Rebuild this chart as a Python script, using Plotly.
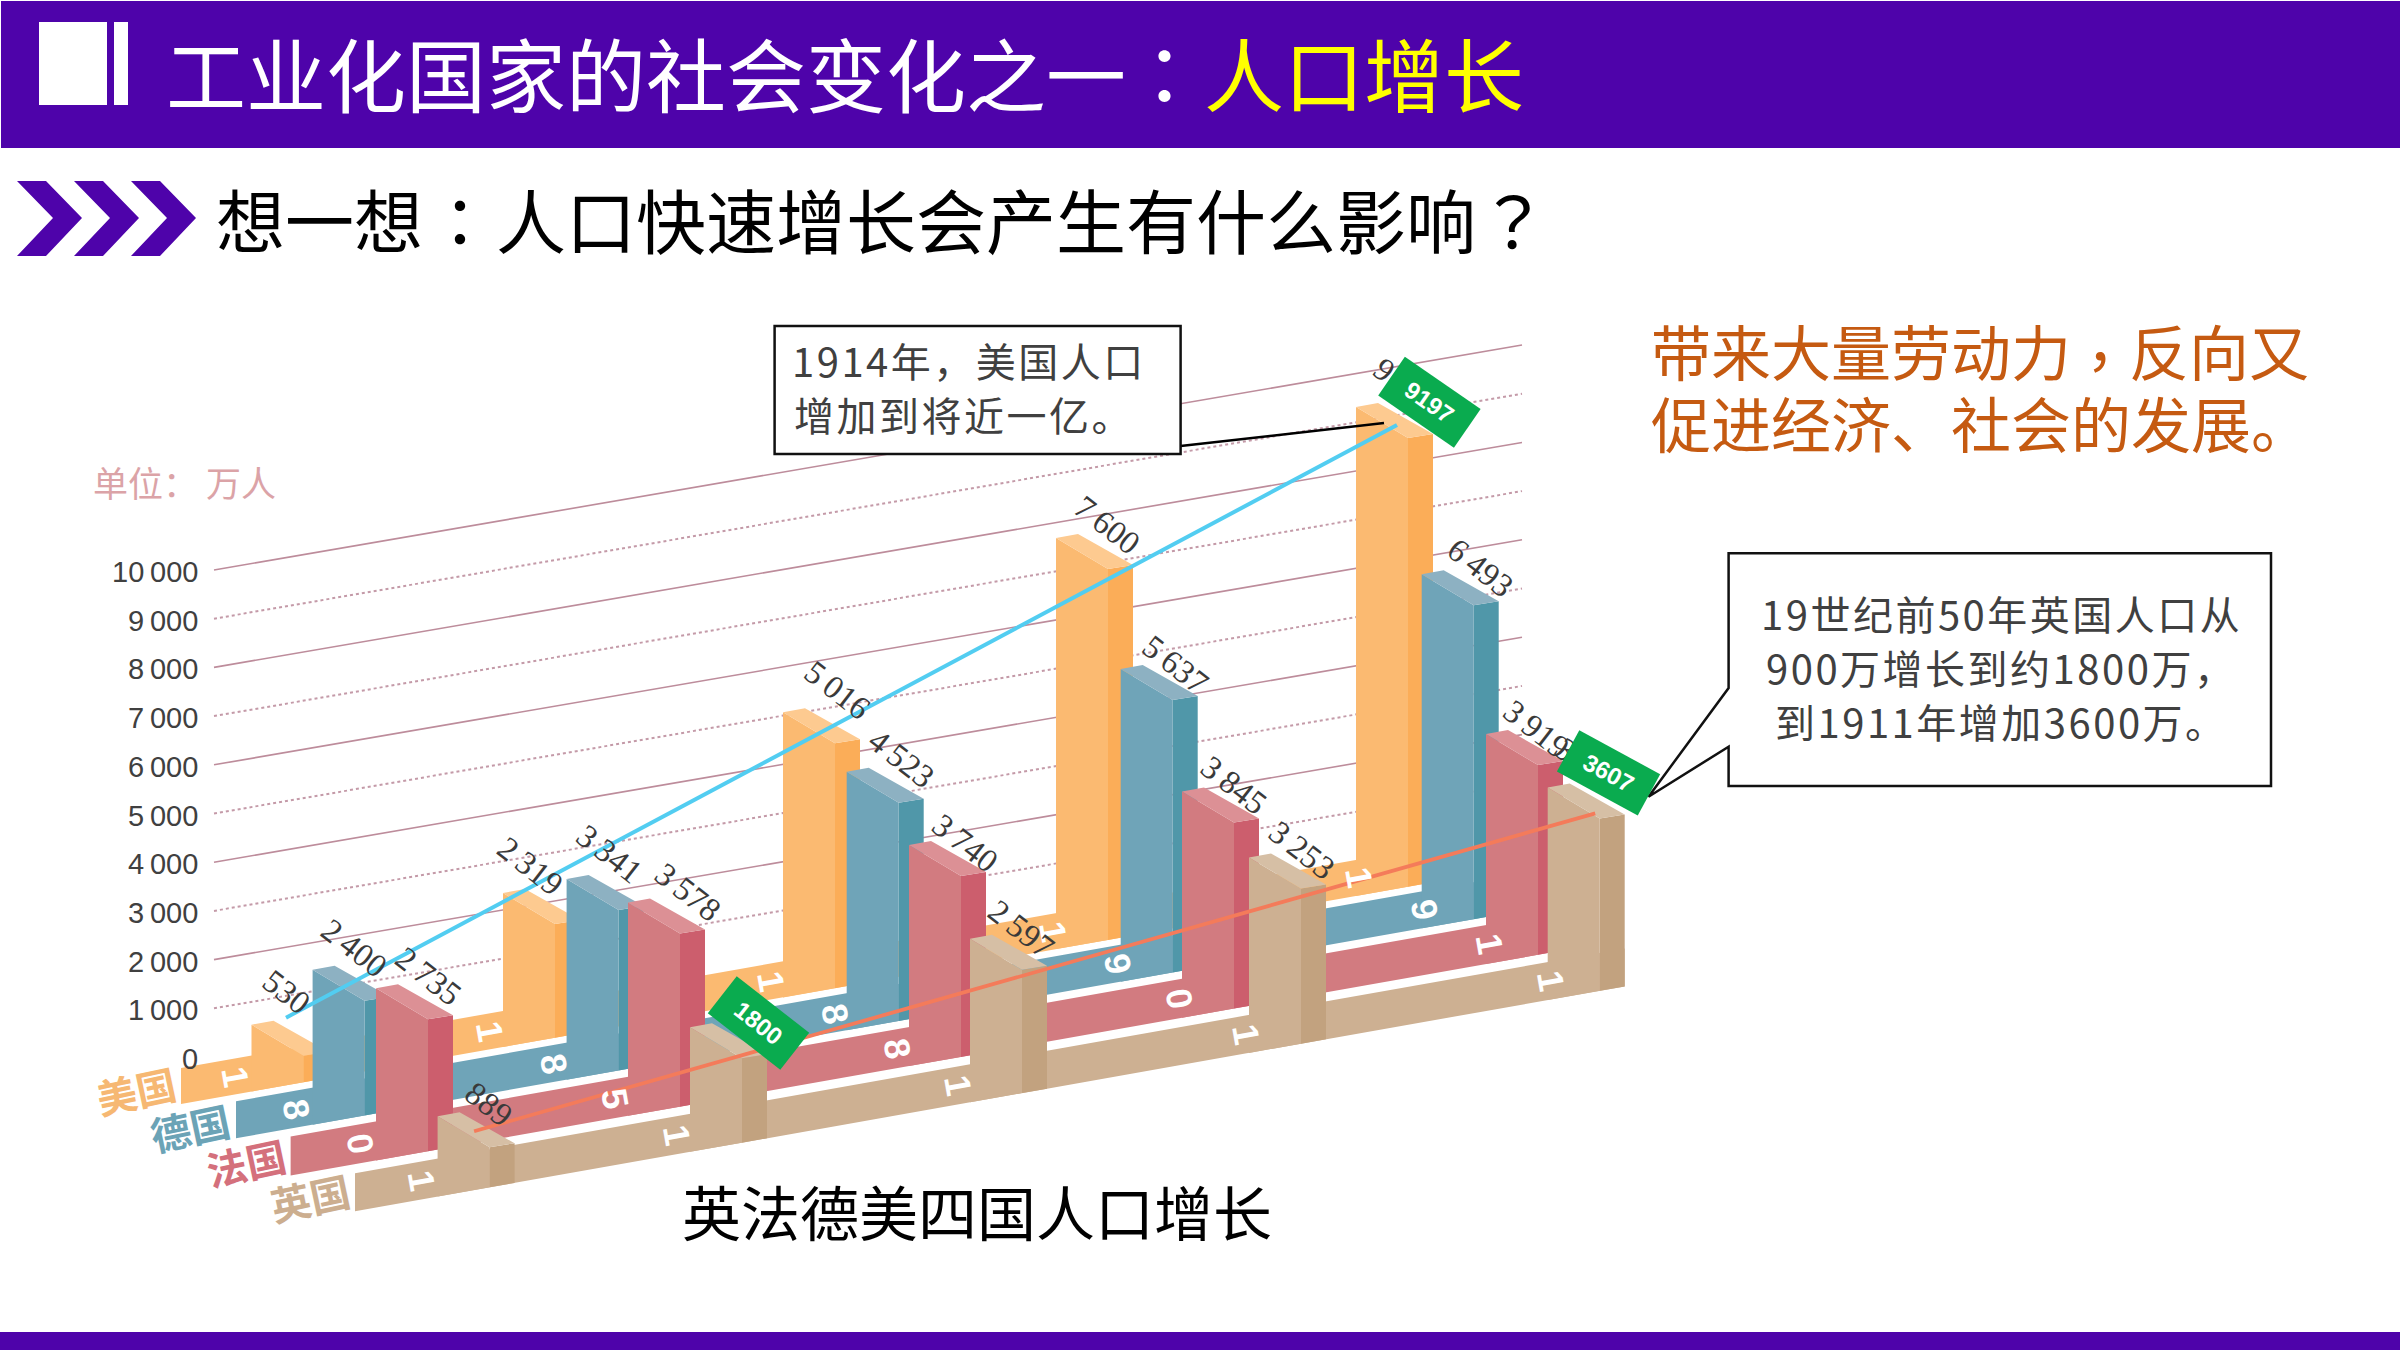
import plotly.graph_objects as go

# ---------- data ----------
COUNTRIES = ["美国", "德国", "法国", "英国"]
YEARS = [1801, 1851, 1881, 1901, 1911]
USA = [530, 2319, 5016, 7600, 9197]
GERMANY = [2400, 3341, 4523, 5637, 6493]
FRANCE = [2735, 3578, 3740, 3845, 3919]
BRITAIN = [889, 1800, 2597, 3253, 3607]
TICKS = [0, 1000, 2000, 3000, 4000, 5000, 6000, 7000, 8000, 9000, 10000]
TAGGED = {(0, 4): "9197", (3, 1): "1800", (3, 4): "3607"}

SERIES = [USA, GERMANY, FRANCE, BRITAIN]

# ---------- oblique projection (layout only) ----------
PX_PER_UNIT = 0.0487
SLOPE = 0.177
COL_X = [
    [251.5, 503, 783, 1056, 1356],
    [312.6, 566.6, 846.7, 1120.7, 1421.7],
    [376, 628, 909, 1182, 1486],
    [437.6, 690, 970, 1249, 1547.7],
]
RIB_TOP = [1100, 1143, 1188, 1236]
RIB_BOT = [1136, 1180, 1227, 1274]
RIB_LEFT = [181, 236, 290.6, 355]
TOP_SHIFT = [-5, -1, 0, 1]
FACE_W = 52
SIDE_W = 25
DIGIT_DX = [-16, -13, -12, -3, 3]
LABEL_OFF = [
    [(35, -33), (27, -27), (54, -22), (51, -13), (50, -20)],
    [(41.5, -22), (43, -25), (55, -13), (55, -4), (59, -6)],
    [(52, -12), (60, -11), (56, -2), (52, -7), (50, -5)],
    [(51, -12), (58, -8), (51, -10), (53, -8), (40, -20)],
]
COLORS = [
    dict(front="#fbba71", side="#fbad58", top="#fdca90", text="#f6b873"),
    dict(front="#6fa4b8", side="#5097a9", top="#8db1c2", text="#6ba3b6"),
    dict(front="#d27b80", side="#cc5e6d", top="#dc9095", text="#d4707c"),
    dict(front="#cdb092", side="#c2a27f", top="#d6bfa5", text="#ccae8f"),
]
CJK = "Noto Sans CJK SC"
CJK_TC = "Noto Sans CJK TC"
LATIN = "Liberation Sans"
NARROW = "Liberation Sans Narrow"
PURPLE = "#4e03aa"
HAIR = "\u200a"


def rib_top(s, x):
    return RIB_TOP[s] - SLOPE * x


def rib_bot(s, x):
    return RIB_BOT[s] - SLOPE * x


def bar_top(s, k):
    x = COL_X[s][k]
    return rib_top(s, x) + TOP_SHIFT[s] - PX_PER_UNIT * SERIES[s][k]


def grid_y(v, x):
    return 1057 - PX_PER_UNIT * v - 0.172 * (x - 214)


def poly_trace(xs, ys, color):
    return go.Scatter(x=xs, y=ys, mode="lines", fill="toself", fillcolor=color,
                      line=dict(width=0, color=color), hoverinfo="skip", showlegend=False)


fig = go.Figure()

# gridlines
for v in TICKS[1:]:
    solid = v % 2000 == 0
    fig.add_trace(go.Scatter(
        x=[214, 1522], y=[grid_y(v, 214), grid_y(v, 1522)], mode="lines",
        line=dict(color="#bd8c9b" if solid else "#c49aa8", width=1.6 if solid else 2,
                  dash="solid" if solid else "dot"),
        hoverinfo="skip", showlegend=False))

# ribbons and bars, back to front
for s, vals in enumerate(SERIES):
    c = COLORS[s]
    rx0, rx1 = RIB_LEFT[s], COL_X[s][-1] + FACE_W + SIDE_W
    fig.add_trace(poly_trace([rx0, rx1, rx1, rx0, rx0],
                             [rib_top(s, rx0), rib_top(s, rx1), rib_bot(s, rx1), rib_bot(s, rx0), rib_top(s, rx0)],
                             c["front"]))
    fx, fy, sx, sy, tx, ty = [], [], [], [], [], []
    for k, v in enumerate(vals):
        x = COL_X[s][k]
        t = bar_top(s, k)
        a, b, d = x + FACE_W, x + FACE_W + SIDE_W, x + 22
        fx += [x, a, a, x, x, None]
        fy += [t, t + 31, rib_bot(s, a), rib_bot(s, x), t, None]
        sx += [a, b, b, a, a, None]
        sy += [t + 31, t + 27, rib_bot(s, b), rib_bot(s, a), t + 31, None]
        tx += [x, d, b, a, x, None]
        ty += [t, t - 4, t + 27, t + 31, t, None]
    fig.add_trace(poly_trace(sx, sy, c["side"]))
    fig.add_trace(poly_trace(fx, fy, c["front"]))
    fig.add_trace(poly_trace(tx, ty, c["top"]))

# callout leader for the 1914 note
fig.add_trace(go.Scatter(x=[1180.6, COL_X[0][4] + 28], y=[446, bar_top(0, 4) + 16], mode="lines",
                         line=dict(color="#000000", width=2.5), hoverinfo="skip", showlegend=False))
# trend lines first -> last value
fig.add_trace(go.Scatter(
    x=[COL_X[0][0] + 34.5, COL_X[0][4] + 41], y=[bar_top(0, 0) - 7, bar_top(0, 4) + 18], mode="lines",
    line=dict(color="#52cdf1", width=4), hoverinfo="skip", showlegend=False))
fig.add_trace(go.Scatter(
    x=[COL_X[3][0] + 36.5, COL_X[3][4] + 47.5], y=[bar_top(3, 0) + 15, bar_top(3, 4) + 26], mode="lines",
    line=dict(color="#f47b5a", width=3.8), hoverinfo="skip", showlegend=False))

# ---------- shapes ----------
shapes = [
    dict(type="rect", x0=1, x1=2400, y0=1, y1=148, fillcolor=PURPLE, line_width=0, layer="below"),
    dict(type="rect", x0=0, x1=2400, y0=1332, y1=1350, fillcolor=PURPLE, line_width=0, layer="below"),
    dict(type="rect", x0=39, x1=107, y0=22, y1=105, fillcolor="#ffffff", line_width=0, layer="below"),
    dict(type="rect", x0=114, x1=128, y0=22, y1=105, fillcolor="#ffffff", line_width=0, layer="below"),
    dict(type="rect", x0=774.6, x1=1180.6, y0=326, y1=454, fillcolor="#ffffff",
         line=dict(color="#111111", width=2.5), layer="above"),
    dict(type="path",
         path="M1728.6,553.3 L2271,553.3 L2271,786 L1728.6,786 L1728.6,746.7 L1648.5,796.7 L1728.6,688 Z",
         fillcolor="#ffffff", line=dict(color="#111111", width=2.5), layer="above"),
]
for i in range(3):
    o = i * 57
    shapes.append(dict(
        type="path",
        path=f"M{17+o},181 L{46+o},181 L{82+o},218 L{46+o},256 L{17+o},256 L{53+o},218 Z",
        fillcolor=PURPLE, line_width=0, layer="below"))

# ---------- text ----------
ann = []


def text(t, x, y, size, color="#000000", family=CJK, anchor="left", angle=0, **kw):
    ann.append(dict(text=t, x=x, y=y, xref="x", yref="y", showarrow=False, xanchor=anchor, yanchor="middle",
                    textangle=angle, borderpad=0,
                    font=dict(family=family, size=size, color=color), **kw))


def spaced(t):
    return HAIR.join(t)


# headers
text("工业化国家的社会变化之一", 165, 71, 80, "#ffffff")
text("：", 1124, 71, 79, "#ffffff", CJK_TC)
text("人口增长", 1203, 71, 80, "#ffff00")
text("想一想", 215, 218, 69)
text("：", 425, 218, 68, "#000000", CJK_TC)
text("人口快速增长会产生有什么影响", 495, 218, 70)
text("？", 1477, 218, 70, "#000000", CJK_TC)

# right-hand message
text("带来大量劳动力", 1650, 349, 60, "#c55a11")
text("，", 2069, 357, 60, "#c55a11", CJK_TC)
text("反向又", 2128, 349, 60, "#c55a11")
text("促进经济、社会的发展。", 1650, 421, 60, "#c55a11")

# callout texts
text(spaced("1914年，美国人口"), 791, 360, 40, "#404040")
text(spaced("增加到将近一亿。"), 793, 414, 40, "#404040")
text(spaced("19世纪前50年英国人口从"), 2000, 613, 40, "#404040", anchor="center")
text(spaced("900万增长到约1800万，"), 2000, 667, 40, "#404040", anchor="center")
text(spaced("到1911年增加3600万。"), 2000, 721, 40, "#404040", anchor="center")

# chart caption and unit
text("英法德美四国人口增长", 977, 1210, 59, "#000000", anchor="center")
text("单位：", 92, 481, 35, "#dba3a7")
text("万人", 205, 481, 35, "#dba3a7")

# y tick labels
for v in TICKS:
    label = f"{v:,}".replace(",", "\u2009")
    text(label, 199, grid_y(v, 214) + 2, 29, "#404040", LATIN, anchor="right")

# country labels
for name, c, pos in zip(COUNTRIES, COLORS, [(136, 1090), (190, 1127), (246, 1162), (310, 1197)]):
    text(f"<b>{name}</b>", pos[0], pos[1], 40, c["text"], anchor="center", angle=-12)

# year digits, read down the ribbons
for k, year in enumerate(YEARS):
    digits = [str(year)[0], str(year)[1], str(year)[2], str(year)[3]]
    for s, dg in enumerate(digits):
        x = COL_X[s][k] + DIGIT_DX[k]
        y = (rib_top(s, x) + rib_bot(s, x)) / 2
        text(f"<b>{dg}</b>", x, y, 36, "#ffffff", LATIN, anchor="center", angle=80)

# value labels
for s, vals in enumerate(SERIES):
    for k, v in enumerate(vals):
        dx, dy = LABEL_OFF[s][k]
        label = f"{v:,}".replace(",", "\u2009")
        text(label, COL_X[s][k] + dx, bar_top(s, k) + dy, 33, "#3a3a3a", NARROW, anchor="center", angle=38)

# green tags (rotated boxes, above the labels they hide)
for (s, k), lab in TAGGED.items():
    centre = {(0, 4): (1429, 402, 34.6), (3, 1): (758.5, 1023, 38), (3, 4): (1608.7, 773, 28.5)}[(s, k)]
    ann.append(dict(text=f"<b>{lab}</b>", x=centre[0], y=centre[1], xref="x", yref="y", showarrow=False,
                    xanchor="center", yanchor="middle", textangle=centre[2], width=91, height=46, align="center",
                    valign="middle", bgcolor="#0aab4f", borderpad=0,
                    font=dict(family=LATIN, size=24, color="#ffffff")))

fig.update_layout(
    width=2400, height=1350, margin=dict(l=0, r=0, t=0, b=0, pad=0),
    paper_bgcolor="#ffffff", plot_bgcolor="#ffffff", showlegend=False,
    xaxis=dict(range=[0, 2400], visible=False, fixedrange=True),
    yaxis=dict(range=[1350, 0], visible=False, fixedrange=True),
    shapes=shapes, annotations=ann,
)
fig.write_html("out.html", config={"displayModeBar": False},
               post_script="document.body.style.margin='0';document.body.style.overflow='hidden';")
